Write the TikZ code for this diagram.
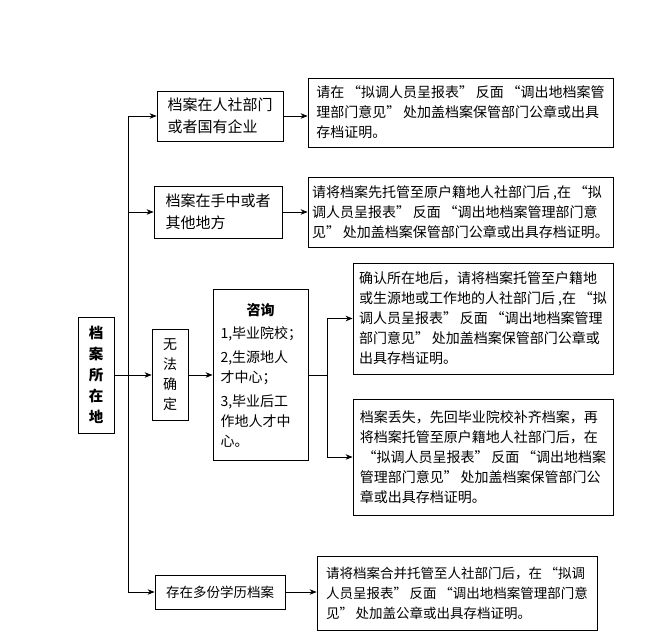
\documentclass[tikz,border=0pt]{standalone}
\usepackage{fontspec}
\setmainfont{Noto Sans CJK SC}
\newcommand\qo{\kern0.2em“}
\newcommand\qc{”\kern0.2em}
\usetikzlibrary{arrows.meta}

\begin{document}
\begin{tikzpicture}[x=1pt,y=-1pt,line width=0.7pt,
  box/.style={draw,line width=0.8pt,inner sep=0pt,align=left,font=\fontsize{14}{20}\selectfont},
  vbox/.style={box,align=center,font=\fontsize{14}{20}\selectfont},
  arrow/.style={-{Stealth[length=7pt,width=5.5pt]}}]
  \useasboundingbox (0,0) rectangle (668,640);
  \def\mtrunk{128} %主干线
  \def\mfork{327}  %分叉线
  % 左侧
  \node[vbox,minimum width=36,minimum height=116,font=\fontsize{14.5}{21}\selectfont\bfseries] (main) at (96,375) {档\\案\\所\\在\\地};
  \node[vbox,minimum width=36,minimum height=91] (wufa) at (170,375) {无\\法\\确\\定};
  \node[box,minimum width=95,minimum height=171,text width=80pt,font=\fontsize{14}{20}\selectfont] (zixun) at (260.5,375)
    {\makebox[\linewidth]{\bfseries 咨询}\\[3pt]1,毕业院校；\\[4pt]2,生源地人\\才中心；\\[4pt]3,毕业后工\\作地人才中\\心。};
  % 中间
  \node[box,minimum width=126,minimum height=50,font=\fontsize{15}{22}\selectfont] (b1) at (220,116) {档案在人社部门\\或者国有企业};
  \node[box,minimum width=128,minimum height=52,font=\fontsize{15}{22}\selectfont] (b2) at (218,212) {档案在手中或者\\其他地方};
  \node[box,minimum width=130,minimum height=34,font=\fontsize{13.5}{20}\selectfont] (b5) at (220,592) {存在多份学历档案};
  % 右侧
  \node[box,minimum width=305,minimum height=69] (r1) at (460.5,112.5)
    {请在\qo 拟调人员呈报表\qc 反面\qo 调出地档案管\\理部门意见\qc 处加盖档案保管部门公章或出具\\存档证明。};
  \node[box,minimum width=305,minimum height=70] (r2) at (460.5,212)
    {请将档案先托管至原户籍地人社部门后 ,在\qo 拟\\调人员呈报表\qc 反面\qo 调出地档案管理部门意\\见\qc 处加盖档案保管部门公章或出具存档证明。};
  \node[box,minimum width=260,minimum height=111] (r3) at (483,318.5)
    {确认所在地后，请将档案托管至户籍地\\或生源地或工作地的人社部门后 ,在\qo 拟\\调人员呈报表\qc 反面\qo 调出地档案管理\\部门意见\qc 处加盖档案保管部门公章或\\出具存档证明。};
  \node[box,minimum width=260,minimum height=116] (r4) at (483,457)
    {档案丢失，先回毕业院校补齐档案，再\\将档案托管至原户籍地人社部门后，在\\\qo 拟调人员呈报表\qc 反面\qo 调出地档案\\管理部门意见\qc 处加盖档案保管部门公\\章或出具存档证明。};
  \node[box,minimum width=280,minimum height=74,font=\fontsize{13.5}{20}\selectfont] (r5) at (457,593)
    {请将档案合并托管至人社部门后，在\qo 拟调\\人员呈报表\qc 反面\qo 调出地档案管理部门意\\见\qc 处加盖公章或出具存档证明。};
  % 连线
  \coordinate (trunktop) at (\mtrunk,117);
  \coordinate (trunkbot) at (\mtrunk,592);
  \coordinate (fork) at (\mfork,375);
  \draw (trunktop) -- (trunkbot);
  \foreach \b in {b1,b2,b5} \draw[arrow] (\b.west -| trunktop) -- (\b.west);
  \foreach \b/\r in {b1/r1,b2/r2,b5/r5} \draw[arrow] (\b.east) -- (\b.east -| \r.west);
  \draw[arrow] (main.east) -- (wufa.west);
  \draw[arrow] (wufa.east) -- (zixun.west);
  \draw (zixun.east) -- (fork) (fork |- r3.west) -- (fork |- r4.west);
  \foreach \r in {r3,r4} \draw[arrow] (fork |- \r.west) -- (\r.west);
\end{tikzpicture}
\end{document}
